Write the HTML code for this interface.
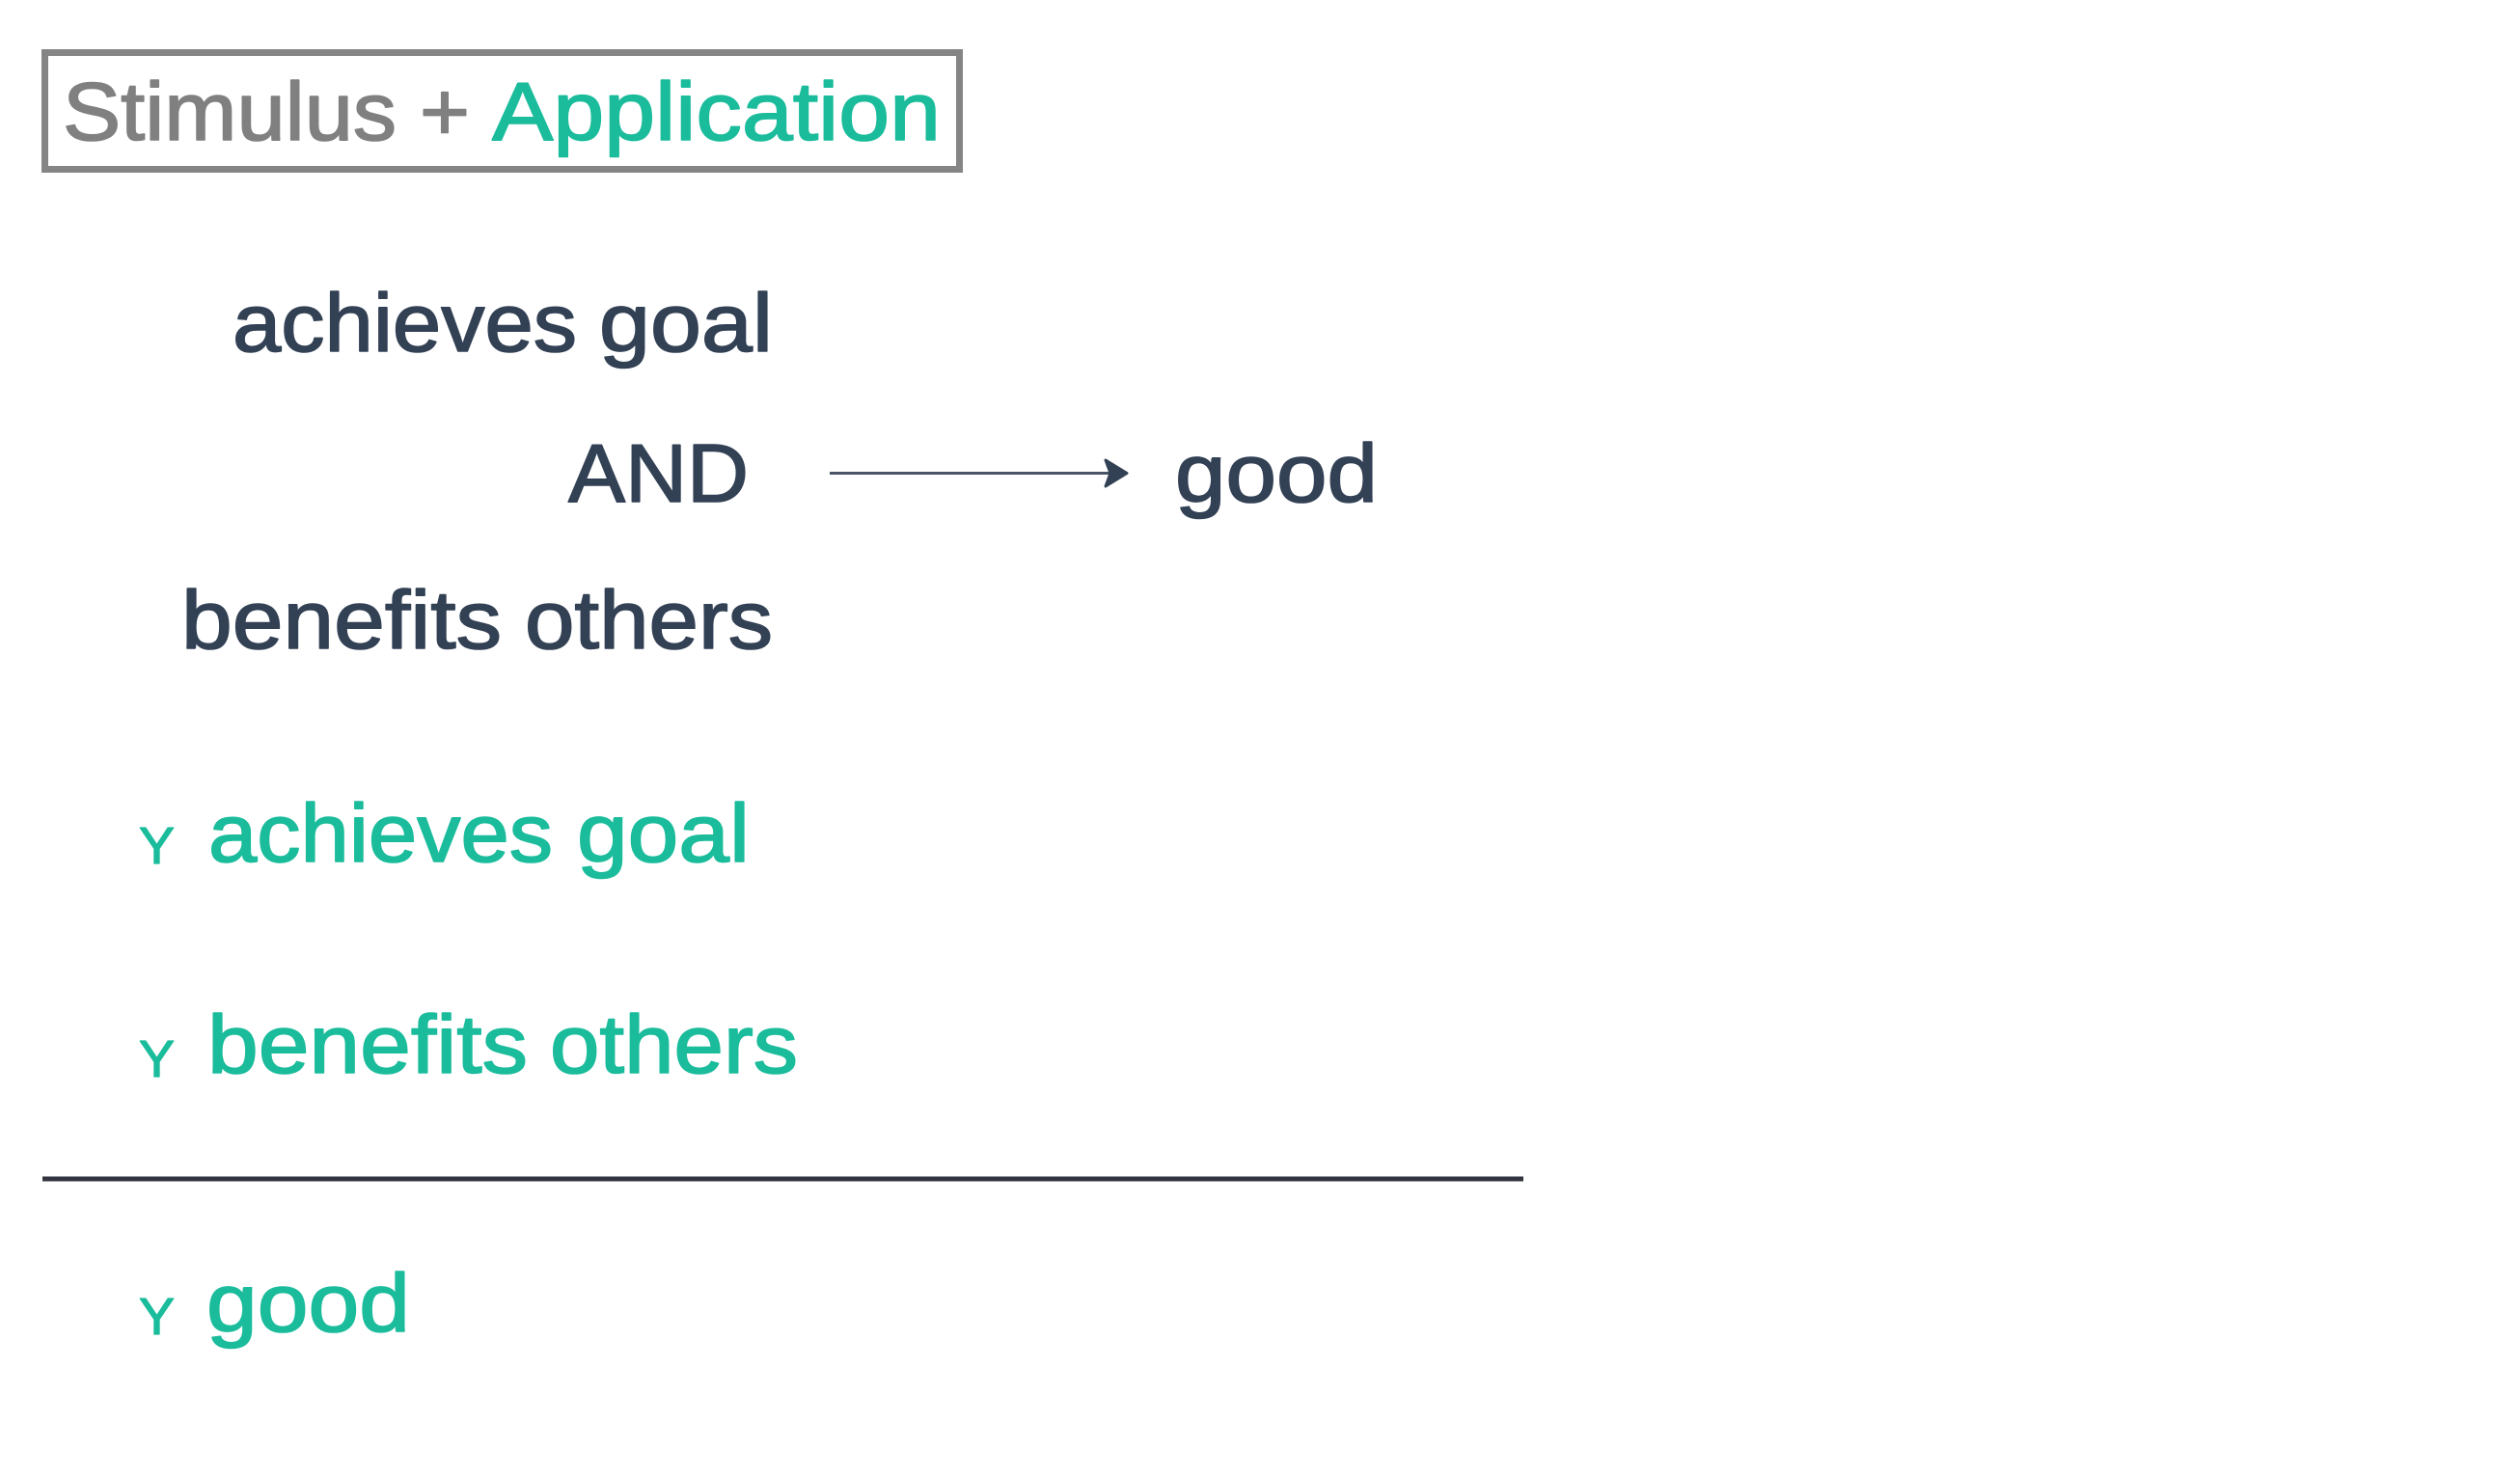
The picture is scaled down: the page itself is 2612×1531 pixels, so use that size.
<!DOCTYPE html>
<html>
<head>
<meta charset="utf-8">
<style>
html,body{margin:0;padding:0;background:#fff;width:2612px;height:1531px;overflow:hidden}
svg{display:block}
text{font-family:"Liberation Sans",sans-serif;font-size:85px;stroke-width:1.6px;stroke-linejoin:round}
.g{fill:#808080;stroke:#808080}.t{fill:#1abc9c;stroke:#1abc9c}.d{fill:#334155;stroke:#334155}
.y{font-size:54px;fill:#1abc9c;stroke:#1abc9c;stroke-width:1.2px}
</style>
</head>
<body>
<svg width="2612" height="1531" viewBox="0 0 2612 1531" xmlns="http://www.w3.org/2000/svg">
<rect x="46.500" y="54.500" width="948" height="121" fill="none" stroke="#858585" stroke-width="7"/>
<text class="g" x="65" y="145" textLength="346" lengthAdjust="spacingAndGlyphs">Stimulus</text>
<text class="g" x="435" y="145" textLength="52" lengthAdjust="spacingAndGlyphs">+</text>
<text class="t" x="510" y="145" textLength="465" lengthAdjust="spacingAndGlyphs">Application</text>

<text class="d" x="241" y="364" textLength="357" lengthAdjust="spacingAndGlyphs">achieves</text>
<text class="d" x="621" y="364" textLength="180" lengthAdjust="spacingAndGlyphs">goal</text>
<text class="d" x="589" y="520" textLength="187" lengthAdjust="spacingAndGlyphs">AND</text>
<text class="d" x="188" y="672" textLength="332" lengthAdjust="spacingAndGlyphs">benefits</text>
<text class="d" x="544" y="672" textLength="257" lengthAdjust="spacingAndGlyphs">others</text>
<text class="d" x="1218" y="520" textLength="210" lengthAdjust="spacingAndGlyphs">good</text>

<line x1="860" y1="490.500" x2="1155" y2="490.500" stroke="#4a5568" stroke-width="3"/>
<path d="M1146 477 L1168 490.500 L1146 504 L1151 490.500 Z" fill="#334155" stroke="#334155" stroke-width="3" stroke-linejoin="round"/>

<text class="y" x="144" y="895" textLength="37" lengthAdjust="spacingAndGlyphs">Y</text>
<text class="t" x="216" y="893" textLength="357" lengthAdjust="spacingAndGlyphs">achieves</text>
<text class="t" x="598" y="893" textLength="179" lengthAdjust="spacingAndGlyphs">goal</text>

<text class="y" x="144" y="1116" textLength="37" lengthAdjust="spacingAndGlyphs">Y</text>
<text class="t" x="215" y="1112" textLength="332" lengthAdjust="spacingAndGlyphs">benefits</text>
<text class="t" x="570" y="1112" textLength="257" lengthAdjust="spacingAndGlyphs">others</text>

<line x1="44" y1="1222" x2="1579" y2="1222" stroke="#32353f" stroke-width="5"/>

<text class="y" x="144" y="1383" textLength="37" lengthAdjust="spacingAndGlyphs">Y</text>
<text class="t" x="214" y="1380" textLength="211" lengthAdjust="spacingAndGlyphs">good</text>
</svg>
</body>
</html>
